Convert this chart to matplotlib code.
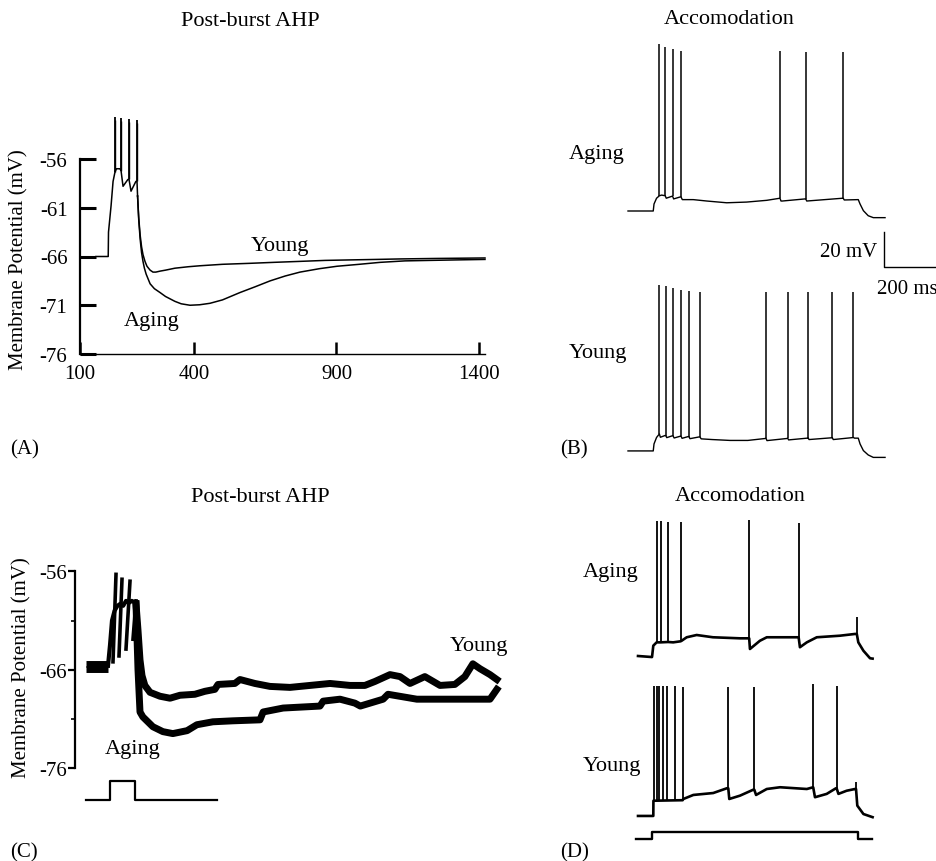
import numpy as np
import matplotlib
matplotlib.use("Agg")
import matplotlib.pyplot as plt

plt.rcParams['font.family'] = ['Liberation Serif', 'DejaVu Serif']

W, H = 937, 862

# ---------------- Panel A: simulated post-burst AHP ----------------
A_burst_t = [56, 99, 100, 109, 116, 123, 128, 140, 144, 151, 168, 172, 179, 196, 200, 202]
A_burst_v = [-66.0, -66.0, -63.5, -60.8, -58.3, -57.3, -57.0, -57.0, -57.2, -58.8,
             -58.1, -58.1, -59.3, -58.3, -58.3, -59.8]
A_spike_t = [123, 144, 172, 200]
A_spike_foot = [-57.3, -57.2, -58.1, -58.3]
A_spike_peak = [-51.7, -51.8, -51.9, -52.0]

A_young_t = [202, 206, 211, 216, 221, 228, 235, 246, 256, 266, 281, 300, 333, 380, 421,
             500, 596, 680, 772, 860, 947, 1040, 1123, 1250, 1421]
A_young_v = [-59.8, -62.0, -63.8, -65.0, -65.8, -66.5, -67.0, -67.4, -67.6, -67.6, -67.5,
             -67.4, -67.2, -67.05, -66.95, -66.8, -66.7, -66.6, -66.5, -66.4, -66.35,
             -66.3, -66.25, -66.2, -66.15]

A_aging_t = [202, 206, 211, 216, 221, 226, 232, 239, 246, 261, 281, 300, 333, 355, 386,
             420, 456, 500, 561, 615, 667, 720, 772, 840, 902, 980, 1053, 1140, 1228,
             1320, 1421]
A_aging_v = [-59.8, -62.2, -64.2, -65.6, -66.5, -67.2, -67.8, -68.3, -68.8, -69.3, -69.7,
             -70.1, -70.6, -70.85, -71.0, -70.95, -70.8, -70.45, -69.7, -69.1, -68.5,
             -68.0, -67.6, -67.25, -67.0, -66.8, -66.6, -66.45, -66.4, -66.35, -66.3]

A_yticks = [-56, -61, -66, -71, -76]
A_xticks = [0, 400, 900, 1400]
A_xticklabels = ['100', '400', '900', '1400']

# ---------------- Panel B: simulated accommodation ----------------
B_aging_t = [0, 99, 102, 112, 123, 132, 146, 150, 172, 175, 179, 204, 208, 213, 256, 309,
             387, 465, 544, 596, 600, 605, 694, 697, 701, 842, 844, 848, 903, 910, 923,
             942, 962, 1008]
B_aging_v = [-65, -65, -61, -57.7, -56.3, -55.9, -56.3, -57.7, -56.6, -56.6, -58.1, -57.0,
             -57.0, -58.5, -58.5, -59.3, -60.3, -59.9, -58.9, -57.7, -59.3, -59.3, -58.1,
             -58.1, -59.3, -57.7, -57.7, -58.7, -58.5, -61, -64.8, -67.7, -68.8, -68.8]
B_aging_spike_t = [123, 146, 175, 208, 598, 697, 844]
B_aging_spike_foot = [-56.3, -56.3, -56.6, -57.0, -57.7, -58.1, -57.7]
B_aging_spike_peak = [30.4, 28.5, 27.6, 26.6, 26.6, 26.0, 26.0]

B_young_t = [0, 99, 102, 112, 123, 127, 145, 148, 152, 173, 176.5, 181, 205, 208, 212,
             236, 239, 243, 279, 282, 287, 330, 400, 470, 538, 541, 545, 623, 626, 630,
             703, 706, 710, 798, 801, 805, 880, 884, 888, 903, 910, 923, 942, 962, 1008]
B_young_v = [-65, -65, -61, -57.3, -55.3, -57.2, -56.2, -56.2, -57.4, -56.4, -56.4, -57.6,
             -56.6, -56.6, -57.8, -56.8, -56.8, -58.0, -57.0, -57.0, -58.1, -58.5, -59.0,
             -59.0, -57.9, -57.7, -59.1, -57.9, -57.7, -58.7, -57.7, -57.5, -58.5, -57.5,
             -57.4, -58.5, -57.4, -57.3, -57.7, -57.7, -61, -64.8, -67.3, -68.7, -68.7]
B_young_spike_t = [123, 148, 176.5, 208, 239, 282, 541, 626, 706, 801, 884]
B_young_spike_foot = [-55.3, -56.2, -56.4, -56.6, -56.8, -57.0, -57.7, -57.7, -57.5, -57.4, -57.3]
B_young_spike_peak = [30.0, 29.1, 28.0, 27.2, 26.6, 26.0, 26.0, 26.0, 26.0, 26.0, 25.7]
B_young_offset = 137.1  # vertical stacking of the two traces (mV)

B_scale_ms = 200
B_scale_mv = 20
B_scale_origin = (1004, -97)

# ---------------- Panel C: recorded post-burst AHP ----------------
C_pre_t = [0, 77]
C_pre_young_v = [-65.4, -65.4]
C_pre_aging_v = [-65.95, -65.95]
C_burst_t = [77, 84, 91, 100, 110, 120, 130, 140, 150, 160, 168, 175]
C_burst_v = [-65.6, -63.5, -61.0, -60.0, -59.5, -59.3, -59.5, -59.0, -59.2, -59.0, -59.1, -59.3]
C_spike_t0 = [94.5, 115.5, 140, 164.5]
C_spike_t1 = [105, 126, 154, 175]
C_spike_v0 = [-65.2, -64.6, -63.9, -62.9]
C_spike_v1 = [-56.3, -56.8, -57.0, -59.0]

C_young_t = [175, 182, 189, 196, 206, 224, 259, 294, 329, 381, 416, 451, 462, 521, 539,
             591, 644, 714, 784, 854, 924, 976, 1011, 1064, 1099, 1134, 1186, 1239, 1291,
             1326, 1354, 1379, 1414, 1438]
C_young_v = [-59.3, -62.0, -65.0, -66.6, -67.6, -68.3, -68.7, -68.9, -68.6, -68.5, -68.2,
             -68.0, -67.5, -67.4, -67.0, -67.4, -67.7, -67.8, -67.6, -67.4, -67.6, -67.6,
             -67.2, -66.5, -66.7, -67.4, -66.7, -67.6, -67.5, -66.7, -65.4, -65.9, -66.5, -67.0]

C_aging_t = [175, 182, 189, 199, 234, 269, 304, 354, 388, 444, 514, 609, 620, 690, 819,
             830, 889, 941, 960, 1040, 1057, 1158, 1334, 1414, 1438]
C_aging_v = [-59.3, -66.0, -70.3, -70.8, -71.8, -72.3, -72.5, -72.2, -71.6, -71.3, -71.2,
             -71.1, -70.3, -69.9, -69.7, -69.2, -69.0, -69.4, -69.7, -69.0, -68.5, -69.0,
             -69.0, -69.0, -68.0]

C_stim_t = [0, 84, 84, 171.5, 171.5, 458.5]
C_stim_v = [-79.3, -79.3, -77.35, -77.35, -79.3, -79.3]

C_yticks = [-56, -66, -76]
C_yminor = [-61, -71]

# ---------------- Panel D: recorded accommodation ----------------
D_aging_t = [0, 55, 60, 73, 89, 118, 138, 167, 171, 191, 230, 294, 400, 436, 439, 478,
             505, 622, 630, 635, 662, 701, 792, 851, 858, 864, 884, 910, 920]
D_aging_v = [-65, -65.6, -59.1, -57.2, -57.2, -57.0, -57.2, -56.6, -56.3, -54.3, -53.0,
             -54.3, -54.9, -54.9, -61.0, -56.3, -54.3, -54.3, -54.3, -60.0, -57.2, -54.3,
             -53.4, -52.4, -52.4, -57.2, -62.0, -66.3, -66.5]
D_aging_spike_t = [74.5, 89, 117.6, 167.5, 436.5, 630, 858]
D_aging_spike_foot = [-57.2, -57.2, -57.0, -56.5, -54.9, -54.3, -52.4]
D_aging_spike_peak = [12.3, 12.3, 11.6, 11.6, 12.9, 11.0, -42.9]

D_young_t = [0, 60, 60.5, 175, 178, 217, 295, 348, 354, 358, 400, 452, 456, 463, 505,
             557, 662, 687, 694, 740, 776, 779, 786, 818, 851, 855, 860, 884, 920]
D_young_v = [-65, -65, -56.3, -56.0, -55.3, -53.0, -51.9, -49.2, -49.2, -55.3, -53.4,
             -50.0, -50.0, -53.0, -49.6, -48.6, -49.6, -48.6, -54.3, -52.4, -49.2, -49.2,
             -52.4, -50.6, -49.6, -49.6, -59.1, -63.9, -65.7]
D_young_spike_t = [62.7, 73.3, 83.5, 96.9, 112.5, 144, 175.3, 354, 456, 687.5, 779, 855]
D_young_spike_foot = [-56.3, -56.3, -56.2, -56.2, -56.1, -56.1, -56.0, -49.2, -50.0,
                      -48.6, -49.2, -49.6]
D_young_spike_peak = [9.5, 9.5, 9.5, 9.5, 9.5, 9.0, 8.5, 8.5, 8.5, 10.4, 9.5, -45.7]
D_young_offset = 91.4

D_stim_t = [-8, 55, 55, 863, 863, 918]
D_stim_v = [-169.6, -169.6, -165.4, -165.4, -169.6, -169.6]


def add_panel(fig, left, top, right, bottom, x_ref, y_ref):
    """Axes placed by pixel box; x_ref / y_ref = (pixel, value, pixels per unit)."""
    xp, xv, sx = x_ref
    yp, yv, sy = y_ref
    ax = fig.add_axes([left / W, 1 - bottom / H, (right - left) / W, (bottom - top) / H])
    ax.set_xlim(xv + (left - xp) / sx, xv + (right - xp) / sx)
    ax.set_ylim(yv - (bottom - yp) / sy, yv + (yp - top) / sy)
    ax.patch.set_alpha(0)
    return ax


def label(fig, x, y, s, size=15, ha='left', **kw):
    fig.text(x / W, 1 - y / H, s, ha=ha, va='center', fontsize=size, **kw)


def draw_trace(ax, t, v, spk_t, spk_foot, spk_peak, offset=0.0, lw=1.0, slw=1.1):
    v = np.asarray(v) - offset
    ax.plot(t, v, color='black', lw=lw, solid_joinstyle='round')
    ax.vlines(spk_t, np.asarray(spk_foot) - offset, np.asarray(spk_peak) - offset,
              color='black', lw=slw)


fig = plt.figure(figsize=(W / 100, H / 100), dpi=100)

# ---- A ----
axA = add_panel(fig, 80, 100, 500, 355, (80, 0, 0.285), (160, -56, 9.75))
axA.plot(A_burst_t, A_burst_v, color='black', lw=1.1)
axA.vlines(A_spike_t, A_spike_foot, A_spike_peak, color='black', lw=1.3)
axA.vlines(np.asarray(A_spike_t) + 1.5, A_spike_foot, np.asarray(A_spike_peak) - 0.3,
           color='black', lw=1.0)
axA.plot(A_young_t, A_young_v, color='black', lw=1.1)
axA.plot(A_aging_t, A_aging_v, color='black', lw=1.1)
for s in ['top', 'right']:
    axA.spines[s].set_visible(False)
axA.spines['left'].set_bounds(-76, -56)
axA.spines['left'].set_linewidth(1.6)
axA.spines['bottom'].set_bounds(0, 1420)
axA.spines['bottom'].set_linewidth(1.0)
axA.set_yticks(A_yticks)
axA.set_yticklabels([str(v) for v in A_yticks])
axA.set_xticks(A_xticks)
axA.set_xticklabels(A_xticklabels)
axA.tick_params(axis='y', direction='in', length=11.5, width=2.2, pad=9, labelsize=15)
axA.tick_params(axis='x', direction='in', length=8.5, width=1.8, pad=7, labelsize=15)

# ---- B ----
axB = add_panel(fig, 600, 30, 937, 475, (628, 0, 0.255), (212, -65, 1.75))
axB.axis('off')
draw_trace(axB, B_aging_t, B_aging_v, B_aging_spike_t, B_aging_spike_foot, B_aging_spike_peak)
draw_trace(axB, B_young_t, B_young_v, B_young_spike_t, B_young_spike_foot, B_young_spike_peak,
           offset=B_young_offset)
sx0, sy0 = B_scale_origin
axB.plot([sx0, sx0, sx0 + B_scale_ms], [sy0 + B_scale_mv, sy0, sy0], color='black', lw=1.0)

# ---- C ----
axC = add_panel(fig, 75, 540, 520, 815, (86, 0, 1 / 3.5), (670.7, -66, 9.83))
thick = 5.0
axC.plot(C_pre_t, C_pre_young_v, color='black', lw=thick, solid_capstyle='butt')
axC.plot(C_pre_t, C_pre_aging_v, color='black', lw=thick, solid_capstyle='butt')
axC.plot(C_burst_t, C_burst_v, color='black', lw=3.0)
for t0, t1, v0, v1 in zip(C_spike_t0, C_spike_t1, C_spike_v0, C_spike_v1):
    axC.plot([t0, t1], [v0, v1], color='black', lw=2.6)
axC.plot(C_young_t, C_young_v, color='black', lw=thick, solid_joinstyle='round')
axC.plot(C_aging_t, C_aging_v, color='black', lw=thick, solid_joinstyle='round')
axC.plot(C_stim_t, C_stim_v, color='black', lw=1.6)
for s in ['top', 'right', 'bottom']:
    axC.spines[s].set_visible(False)
axC.spines['left'].set_bounds(-76, -56)
axC.spines['left'].set_linewidth(1.6)
axC.set_xticks([])
axC.set_yticks(C_yticks)
axC.set_yticklabels([str(v) for v in C_yticks])
axC.set_yticks(C_yminor, minor=True)
axC.tick_params(axis='y', which='major', direction='out', length=5, width=1.6, pad=1, labelsize=15)
axC.tick_params(axis='y', which='minor', direction='out', length=3, width=1.2)

# ---- D ----
axD = add_panel(fig, 600, 500, 937, 860, (638, 0, 0.255), (657, -65, 1.75))
axD.axis('off')
draw_trace(axD, D_aging_t, D_aging_v, D_aging_spike_t, D_aging_spike_foot, D_aging_spike_peak,
           lw=1.9, slw=1.3)
draw_trace(axD, D_young_t, D_young_v, D_young_spike_t, D_young_spike_foot, D_young_spike_peak,
           offset=D_young_offset, lw=1.9, slw=1.3)
axD.plot(D_stim_t, D_stim_v, color='black', lw=1.7)

# ---- text ----
label(fig, 250, 21, 'Post-burst AHP', size=16, ha='center')
label(fig, 729, 20, 'Accomodation', size=16, ha='center')
label(fig, 260.5, 498, 'Post-burst AHP', size=16, ha='center')
label(fig, 740, 497, 'Accomodation', size=16, ha='center')
label(fig, 18.5, 260, 'Membrane Potential (mV)', ha='center', rotation=90)
label(fig, 22, 668, 'Membrane Potential (mV)', ha='center', rotation=90)

label(fig, 280, 247, 'Young', size=16, ha='center')
label(fig, 152, 322, 'Aging', size=16, ha='center')
label(fig, 569, 155, 'Aging', size=16)
label(fig, 569, 354, 'Young', size=16)
label(fig, 877, 253, '20 mV', ha='right')
label(fig, 877, 290, '200 ms')
label(fig, 479, 647, 'Young', size=16, ha='center')
label(fig, 132.5, 750, 'Aging', size=16, ha='center')
label(fig, 583, 573, 'Aging', size=16)
label(fig, 583, 767, 'Young', size=16)

label(fig, 10, 450, '(A)')
label(fig, 560, 450, '(B)')
label(fig, 10, 853, '(C)')
label(fig, 560, 853, '(D)')

fig.savefig('out.png', dpi=100)
